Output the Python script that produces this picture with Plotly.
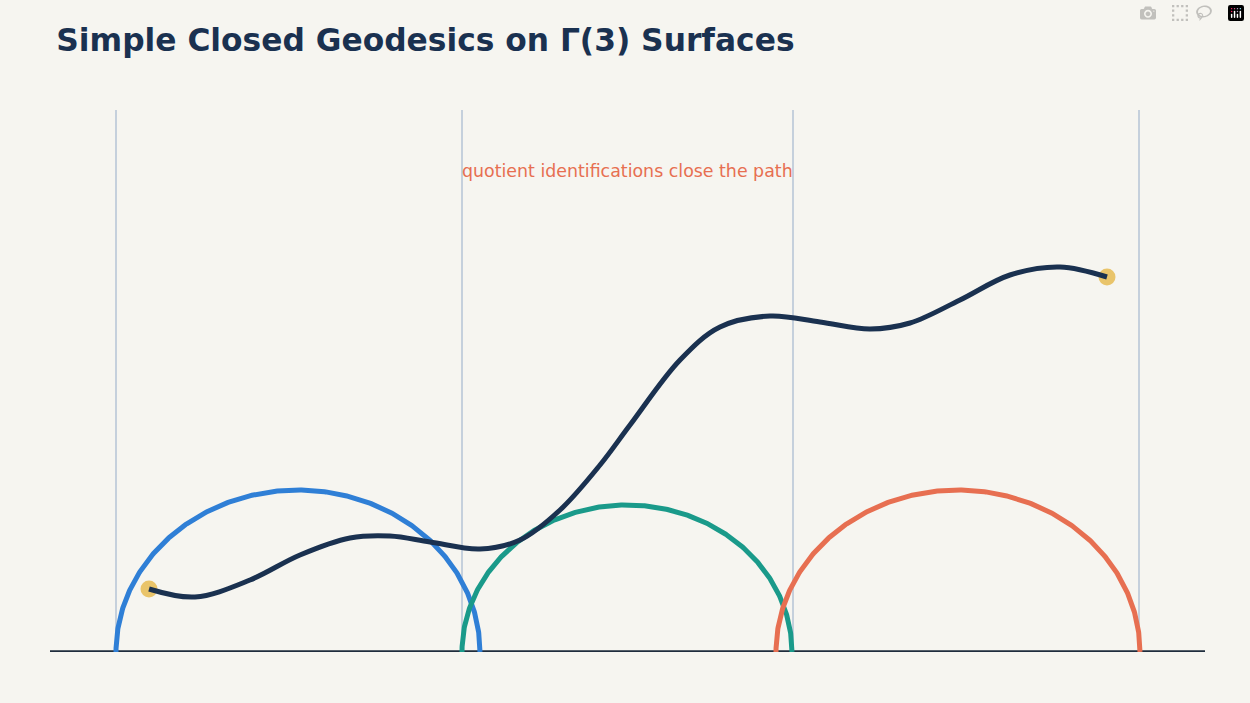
import numpy as np
import plotly.graph_objects as go

walls = [116, 462, 793, 1139]
arc_cx = [298, 627, 958]
arc_rx = [182, 165, 182]
arc_ry = [162, 147, 162]
arc_colors = ["#2f7fd6", "#1a9a8a", "#e76f51"]
geo_x = [149,195,250,300,350,390,430,480,520,560,600,630,680,720,770,820,870,910,960,1010,1060,1107]
geo_py = [589,597,580,555,538,536,542,549,540,510,465,425,360,327,316,322,329,323,300,275,267,277]
geo_y = [652 - v for v in geo_py]

fig = go.Figure()
for w in walls:
    fig.add_trace(go.Scatter(x=[w, w], y=[0, 542], mode="lines",
                             line=dict(color="#c5d0dc", width=2), hoverinfo="skip"))
fig.add_trace(go.Scatter(x=[50, 1205], y=[0, 0], mode="lines",
                         line=dict(color="#1f2d3d", width=3.5), hoverinfo="skip"))
t = np.linspace(0, np.pi, 400)
for cx, rx, ry, c in zip(arc_cx, arc_rx, arc_ry, arc_colors):
    fig.add_trace(go.Scatter(x=cx + rx*np.cos(t), y=ry*np.sin(t), mode="lines",
                             line=dict(color=c, width=5), hoverinfo="skip"))
fig.add_trace(go.Scatter(x=[geo_x[0], geo_x[-1]], y=[geo_y[0], geo_y[-1]], mode="markers",
                         marker=dict(color="#e9c46a", size=17), hoverinfo="skip"))
fig.add_trace(go.Scatter(x=geo_x, y=geo_y, mode="lines",
                         line=dict(color="#1a3150", width=5, shape="spline", smoothing=1.0),
                         hoverinfo="skip"))
fig.add_annotation(x=627, y=481, text="quotient identifications close the path",
                   showarrow=False, font=dict(color="#e76f51", size=17.4, family="DejaVu Sans"))
fig.update_layout(
    width=1250, height=703, showlegend=False,
    paper_bgcolor="#f6f5f0", plot_bgcolor="#f6f5f0",
    margin=dict(l=50, r=45, t=110, b=51),
    title=dict(text="<b>Simple Closed Geodesics on Γ(3) Surfaces</b>", x=0.045, xanchor="left",
               y=0.943, yanchor="middle", font=dict(size=31.3, color="#1a3150", family="DejaVu Sans")),
    xaxis=dict(range=[50, 1205], visible=False, fixedrange=True),
    yaxis=dict(range=[0, 542], visible=False, fixedrange=True),
)
fig.write_html("out.html")
with open("out.html", encoding="utf-8") as f:
    html = f.read()
html = html.replace("<head>", "<head><style>body{margin:0;background:#f6f5f0;}</style>", 1)
with open("out.html", "w", encoding="utf-8") as f:
    f.write(html)
